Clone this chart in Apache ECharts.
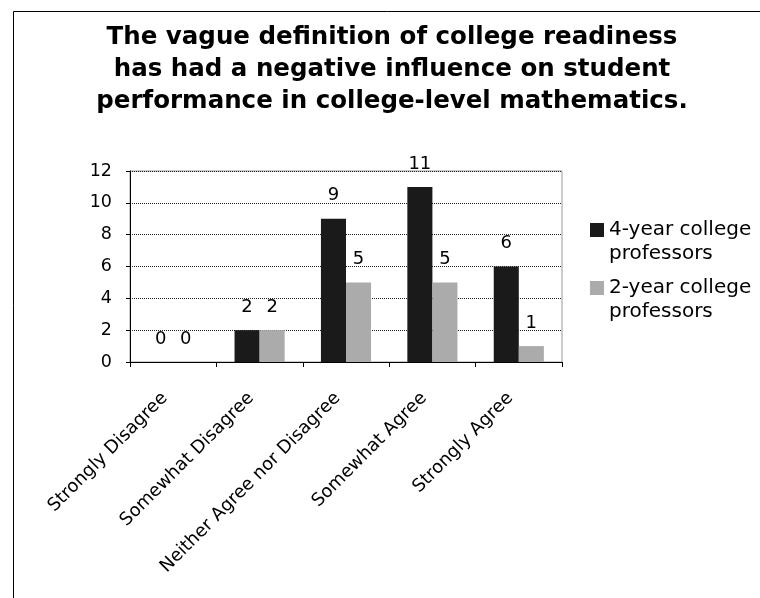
<!DOCTYPE html>
<html>
<head>
<meta charset="utf-8">
<script src="https://cdn.jsdelivr.net/npm/echarts@6/dist/echarts.min.js"></script>
<style>
  html, body { margin: 0; padding: 0; background: #fff; }
  #chart { width: 760px; height: 598px; }
</style>
</head>
<body>
<div id="chart"></div>
<script>
// categories on the x axis
const categories = ['Strongly Disagree', 'Somewhat Disagree', 'Neither Agree nor Disagree', 'Somewhat Agree', 'Strongly Agree'];
// series names
const seriesNames = ['4-year college professors', '2-year college professors'];
// values
const fourYear = [0, 2, 9, 11, 6];
const twoYear = [0, 2, 5, 5, 1];
const yTicks = { min: 0, max: 12, interval: 2 };

const titleText = 'The vague definition of college readiness\nhas had a negative influence on student\nperformance in college-level mathematics.';
const font = 'DejaVu Sans, Verdana, sans-serif';

const chart = echarts.init(document.getElementById('chart'));

// legend icon: square at the top, invisible dot below so it lines up with the first text line
const legendIcon = 'path://M0,0H14V14H0Z M0,38H0.01V38.01H0Z';

const option = {
  backgroundColor: '#fff',
  animation: false,
  title: {
    text: titleText,
    left: 387,
    textAlign: 'center',
    top: 17,
    textStyle: {
      fontFamily: font,
      fontSize: 24.5,
      fontWeight: 'bold',
      color: '#000',
      lineHeight: 32
    }
  },
  graphic: [{
    type: 'rect',
    left: 11,
    top: 9,
    shape: { width: 800, height: 700 },
    style: { fill: 'none', stroke: '#000', lineWidth: 1 },
    silent: true
  }],
  legend: {
    orient: 'vertical',
    left: 585,
    top: 213,
    itemWidth: 14,
    itemHeight: 38,
    itemGap: 10,
    icon: legendIcon,
    data: seriesNames,
    formatter: name => name.replace(' professors', '\nprofessors'),
    textStyle: {
      fontFamily: font,
      fontSize: 20,
      color: '#000',
      lineHeight: 24
    }
  },
  grid: {
    left: 130,
    right: 198,
    top: 171,
    bottom: 236,
    show: true,
    borderColor: '#999',
    borderWidth: 1
  },
  xAxis: {
    type: 'category',
    data: categories,
    axisLine: { lineStyle: { color: '#000', width: 1 } },
    axisTick: { show: true, length: 5, lineStyle: { color: '#000' } },
    axisLabel: {
      rotate: 45,
      interval: 0,
      margin: 25,
      padding: [0, 12, 0, 0],
      fontFamily: font,
      fontSize: 18,
      color: '#000'
    }
  },
  yAxis: {
    type: 'value',
    min: yTicks.min,
    max: yTicks.max,
    interval: yTicks.interval,
    axisLine: { show: true, lineStyle: { color: '#000' } },
    axisTick: { show: true, length: 4, lineStyle: { color: '#000' } },
    axisLabel: {
      margin: 18,
      fontFamily: font,
      fontSize: 17.5,
      color: '#000'
    },
    splitLine: { lineStyle: { color: '#222', type: 'dotted', width: 1 } }
  },
  series: [
    {
      name: seriesNames[0],
      type: 'bar',
      data: fourYear,
      barGap: '0%',
      barCategoryGap: '42%',
      itemStyle: { color: '#1a1a1a' },
      label: {
        show: true,
        position: 'top',
        distance: 14,
        fontFamily: font,
        fontSize: 18,
        color: '#000'
      }
    },
    {
      name: seriesNames[1],
      type: 'bar',
      data: twoYear,
      itemStyle: { color: '#ababab' },
      label: {
        show: true,
        position: 'top',
        distance: 14,
        fontFamily: font,
        fontSize: 18,
        color: '#000'
      }
    }
  ]
};

chart.setOption(option);
</script>
</body>
</html>
